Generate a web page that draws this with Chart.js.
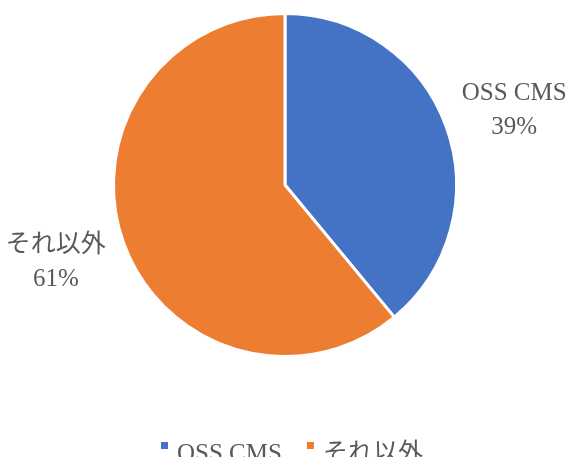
<!DOCTYPE html>
<html><head><meta charset="utf-8">
<script src="https://cdn.jsdelivr.net/npm/chart.js@4"></script>
<style>html,body{margin:0;padding:0;background:#fff;overflow:hidden}#wrap{width:574px;height:457px;position:relative}</style>
</head><body><div id="wrap"><canvas id="c" width="574" height="457"></canvas></div>
<script>
const categories = ["OSS CMS", "それ以外"];
const values = [39, 61];
const percentLabels = ["39%", "61%"];
const colors = ["#4472C4", "#ED7D31"];

const FONT = '"Liberation Serif", "Noto Sans CJK JP", serif';
const TEXT_COLOR = '#595959';

const labelPlugin = {
  id: 'outLabels',
  afterDatasetsDraw(chart) {
    const ctx = chart.ctx;
    const meta = chart.getDatasetMeta(0);
    ctx.save();
    ctx.fillStyle = TEXT_COLOR;
    ctx.font = '25px ' + FONT;
    ctx.textAlign = 'center';
    ctx.textBaseline = 'middle';
    meta.data.forEach((arc, i) => {
      const mid = (arc.startAngle + arc.endAngle) / 2;
      const r = arc.outerRadius * 1.42;
      const x = arc.x + Math.cos(mid) * r;
      const right = Math.cos(mid) > 0;
      const y = arc.y + Math.sin(mid) * r + (right ? 8 : -5);
      ctx.fillText(chart.data.labels[i], x, y - 17);
      ctx.fillText(percentLabels[i], x, y + 17);
    });
    ctx.restore();
  }
};

const legendPlugin = {
  id: 'bottomLegend',
  afterDraw(chart) {
    const ctx = chart.ctx;
    ctx.save();
    ctx.font = '25px ' + FONT;
    ctx.textBaseline = 'alphabetic';
    ctx.textAlign = 'left';
    const box = 7, gapBox = 9, gapItem = 25;
    const widths = chart.data.labels.map(l => ctx.measureText(l).width);
    let x = 161;
    const baseY = 461;
    chart.data.labels.forEach((l, i) => {
      ctx.fillStyle = colors[i];
      ctx.fillRect(x, 442, box, box);
      x += box + gapBox;
      ctx.fillStyle = TEXT_COLOR;
      ctx.fillText(l, x, baseY);
      x += widths[i] + gapItem;
    });
    ctx.restore();
  }
};

new Chart(document.getElementById('c'), {
  type: 'pie',
  data: {
    labels: categories,
    datasets: [{ data: values, backgroundColor: colors, borderColor: '#ffffff', borderWidth: 3 }]
  },
  options: {
    responsive: false,
    animation: false,
    layout: { padding: { top: 12, bottom: 99, left: 0, right: 4 } },
    plugins: { legend: { display: false }, tooltip: { enabled: false } }
  },
  plugins: [labelPlugin, legendPlugin]
});
</script></body></html>
